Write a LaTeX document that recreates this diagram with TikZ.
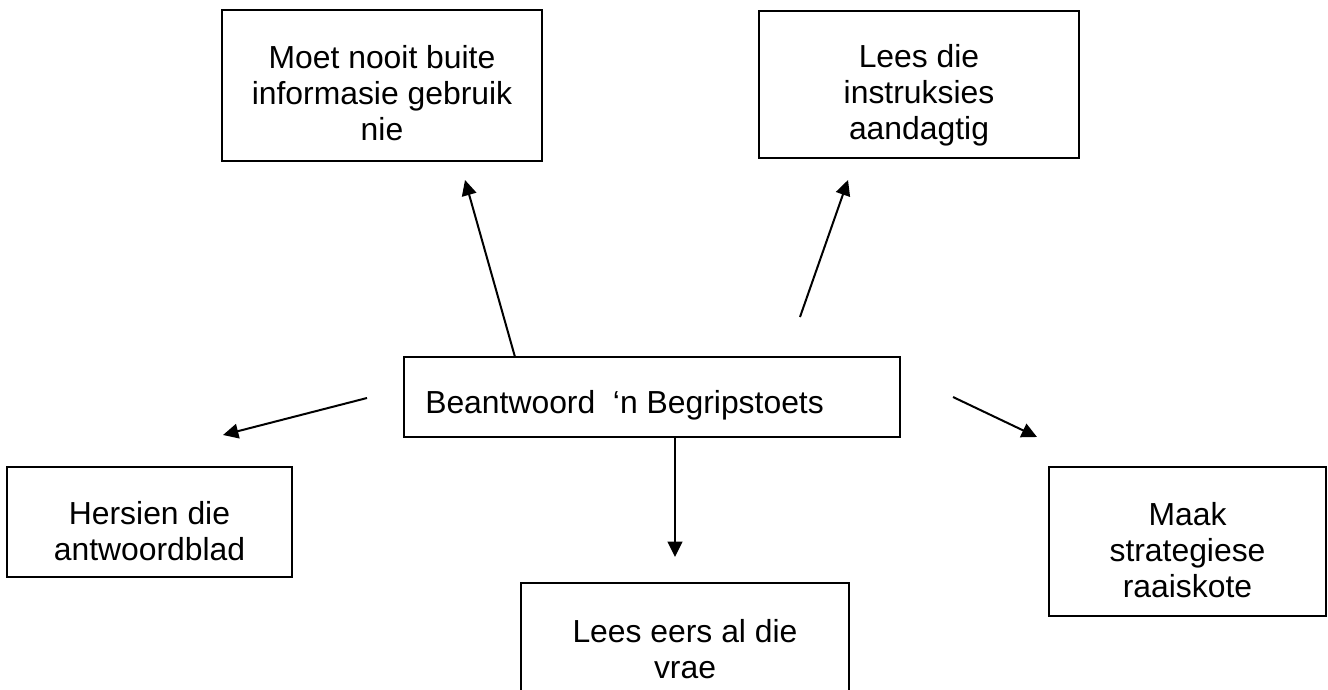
\documentclass[tikz,border=0pt]{standalone}
\usepackage{fontspec}
\setmainfont{Liberation Sans}
\usetikzlibrary{arrows.meta}
\begin{document}
\begin{tikzpicture}[x=0.75pt,y=-0.75pt,
  box/.style={draw=black, line width=1.4pt, inner sep=0pt, rectangle},
  txt/.style={align=center, inner sep=0pt, font=\fontsize{23.9pt}{27pt}\selectfont},
  arr/.style={line width=1.5pt, -{Triangle[length=11.5pt,width=11pt]}}]
\useasboundingbox (0,0) rectangle (1328,689);
% boxes
\node[box, minimum width={320*0.75pt}, minimum height={151*0.75pt}] (tl) at (382,85.5) {};
\node[box, minimum width={320*0.75pt}, minimum height={147*0.75pt}] (tr) at (919,84.5) {};
\node[box, minimum width={496*0.75pt}, minimum height={80*0.75pt}] (c) at (652,397) {};
\node[box, minimum width={285*0.75pt}, minimum height={110*0.75pt}] (l) at (149.5,522) {};
\node[box, minimum width={277*0.75pt}, minimum height={149*0.75pt}] (r) at (1187.5,541.5) {};
\node[box, minimum width={328*0.75pt}, minimum height={130*0.75pt}] (b) at (685,648) {};
% texts
\node[txt] (tltext) at (382,93) {Moet nooit buite\\informasie gebruik\\nie};
\node[txt] (trtext) at (919,95) {Lees die\\instruksies\\aandagtig};
\node[txt, anchor=base west] (ctext) at (425,413) {Beantwoord\ \ ‘n Begripstoets};
\node[txt] (ltext) at (149.5,531.5) {Hersien die\\antwoordblad};
\node[txt] (rtext) at (1187.5,550) {Maak\\strategiese\\raaiskote};
\node[txt] (btext) at (685,649) {Lees eers al die\\vrae};
% connector end points
\coordinate (a1s) at (515,357);
\coordinate (a1e) at (465,180);
\coordinate (a2s) at (800,317);
\coordinate (a2e) at (848,180);
\coordinate (a3s) at (367,398);
\coordinate (a3e) at (223,435);
\coordinate (a4s) at (675,437);
\coordinate (a4e) at (675,557);
\coordinate (a5s) at (953,397);
\coordinate (a5e) at (1037,437);
\draw[arr] (a1s) -- (a1e);
\draw[arr] (a2s) -- (a2e);
\draw[arr] (a3s) -- (a3e);
\draw[arr] (a4s) -- (a4e);
\draw[arr] (a5s) -- (a5e);
\end{tikzpicture}
\end{document}
